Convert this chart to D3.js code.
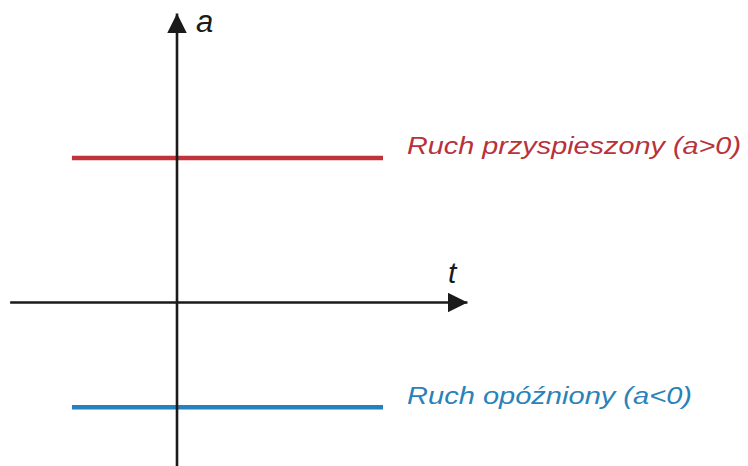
<!DOCTYPE html>
<html><head><meta charset="utf-8">
<script src="https://cdn.jsdelivr.net/npm/d3@7"></script>
<style>html,body{margin:0;padding:0;background:#fff;}svg{display:block;}</style>
</head><body>
<svg id="c" width="748" height="466"></svg>
<script>
// Data
const seriesNames = ["Ruch przyspieszony (a>0)", "Ruch opóźniony (a<0)"];
const seriesA = [1.0, -0.725];
const seriesColors = ["#c0333a", "#2580bd"];
const labelColors = ["#b8323c", "#2a82b8"];
const tRange = [-0.51, 1.0];
const tAxisRange = [-0.81, 1.41];
const aAxisRange = [-1.15, 2.0];
const axisLabels = ["t", "a"];

const svg = d3.select("#c");
const x = d3.scaleLinear().domain([0, 1]).range([177, 383]);
const y = d3.scaleLinear().domain([0, 1]).range([302.5, 158]);

const defs = svg.append("defs");
defs.append("marker").attr("id", "arr").attr("viewBox", "0 0 10 10")
  .attr("refX", 10).attr("refY", 5).attr("markerWidth", 7.5).attr("markerHeight", 7.5)
  .attr("markerUnits", "strokeWidth").attr("orient", "auto")
  .append("path").attr("d", "M0,0 L10,5 L0,10 z").attr("fill", "#1a1a1a");

// series lines
svg.selectAll("line.s").data(seriesA).join("line").attr("class", "s")
  .attr("x1", x(tRange[0])).attr("x2", x(tRange[1]))
  .attr("y1", d => y(d)).attr("y2", d => y(d))
  .attr("stroke", (d, i) => seriesColors[i]).attr("stroke-width", 4.5);

// axes
svg.append("line").attr("x1", x(tAxisRange[0])).attr("x2", x(tAxisRange[1]))
  .attr("y1", y(0)).attr("y2", y(0)).attr("stroke", "#1a1a1a").attr("stroke-width", 2.6)
  .attr("marker-end", "url(#arr)");
svg.append("line").attr("x1", x(0)).attr("x2", x(0))
  .attr("y1", y(aAxisRange[0])).attr("y2", y(aAxisRange[1])).attr("stroke", "#1a1a1a").attr("stroke-width", 2.6)
  .attr("marker-end", "url(#arr)");

// series labels
const targetW = [334, 285];
svg.selectAll("text.lab").data(seriesNames).join("text").attr("class", "lab")
  .attr("x", 407).attr("y", (d, i) => y(seriesA[i]) + (i === 0 ? -4 : -3))
  .attr("font-family", "Liberation Sans, Arial, sans-serif").attr("font-style", "italic")
  .attr("font-size", 23).attr("fill", (d, i) => labelColors[i]).text(d => d)
  .attr("textLength", (d, i) => targetW[i]).attr("lengthAdjust", "spacingAndGlyphs");

// axis labels
svg.append("text").attr("x", 448).attr("y", 283).attr("font-family", "Liberation Sans, Arial, sans-serif")
  .attr("font-style", "italic").attr("font-size", 30).attr("fill", "#1a1a1a").text(axisLabels[0]);
svg.append("text").attr("x", 196).attr("y", 32).attr("font-family", "Liberation Sans, Arial, sans-serif")
  .attr("font-style", "italic").attr("font-size", 31).attr("fill", "#1a1a1a").text(axisLabels[1]);
</script>
</body></html>
